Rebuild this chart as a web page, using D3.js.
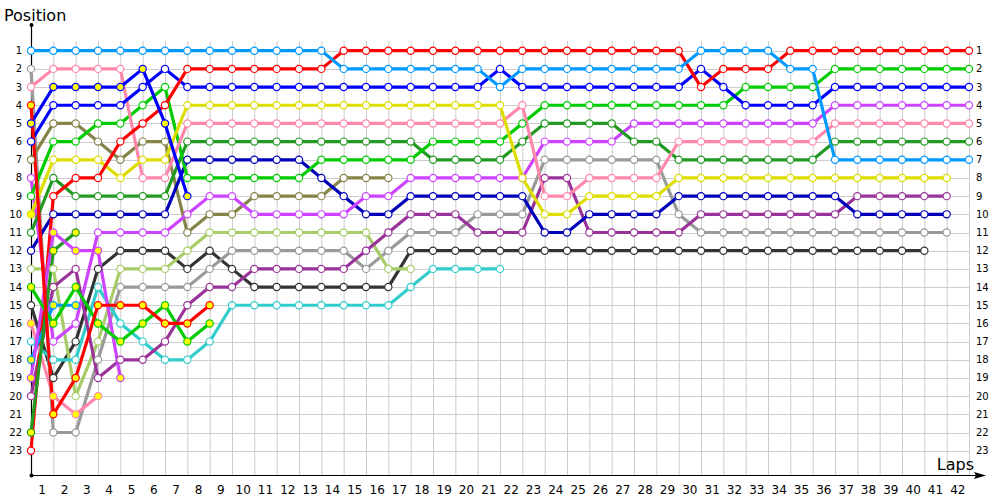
<!DOCTYPE html>
<html>
<head>
<meta charset="utf-8">
<script src="https://cdn.jsdelivr.net/npm/d3@7"></script>
<style>
  body { margin: 0; background: #fff; }
  svg { display: block; font-family: "DejaVu Sans", Verdana, sans-serif; }
</style>
</head>
<body>
<svg id="chart" width="1000" height="500"></svg>
<script>
// lap 0 = grid position, one value per lap until the car drops out
var skyW = [1,1,1,1,1,1,1,1,1,1,1,1,1,1,2,2,2,2,2,2,2,3,2,2,2,2,2,2,2,2,1,1,1,1,2,2,7,7,7,7,7,7,7];
var redW = [23,9,8,8,6,5,4,2,2,2,2,2,2,2,1,1,1,1,1,1,1,1,1,1,1,1,1,1,1,1,3,2,2,2,1,1,1,1,1,1,1,1,1];
var blueW = [6,4,4,4,4,3,2,3,3,3,3,3,3,3,3,3,3,3,3,3,3,2,3,3,3,3,3,3,3,3,2,3,4,4,4,4,3,3,3,3,3,3,3];
var yellow = [10,7,7,7,8,7,7,4,4,4,4,4,4,4,4,4,4,4,4,4,4,4,8,10,10,9,9,9,9,8,8,8,8,8,8,8,8,8,8,8,8,8];
var pink = [3,2,2,2,2,8,8,5,5,5,5,5,5,5,5,5,5,5,5,5,5,5,4,9,9,8,8,8,8,6,6,6,6,6,6,6,5,5,5,5,5,5,5];
var green = [9,6,6,5,5,4,3,8,8,8,8,8,8,7,7,7,7,7,6,6,6,6,5,4,4,4,4,4,4,4,4,4,3,3,3,3,2,2,2,2,2,2,2];
var darkGreen = [11,8,9,9,9,9,9,6,6,6,6,6,6,6,6,6,6,6,7,7,7,7,6,5,5,5,5,6,6,7,7,7,7,7,7,7,6,6,6,6,6,6,6];
var navy = [12,10,10,10,10,10,10,7,7,7,7,7,7,8,9,10,10,9,9,9,9,9,9,11,11,10,10,10,10,9,9,9,9,9,9,9,9,10,10,10,10,10];
var violetW = [8,17,16,11,11,11,11,10,9,9,10,10,10,10,10,9,9,8,8,8,8,8,8,6,6,6,6,5,5,5,5,5,5,5,5,5,4,4,4,4,4,4,4];
var olive = [7,5,5,6,7,6,6,11,10,10,9,9,9,9,8,8,8];
var lightGreen = [13,13,20,17,13,13,13,12,11,11,11,11,11,11,11,11,13,13];
var gray = [2,22,22,18,14,14,14,14,13,12,12,12,12,12,12,13,12,11,11,11,10,10,10,7,7,7,7,7,7,10,11,11,11,11,11,11,11,11,11,11,11,11];
var darkGray = [15,19,17,13,12,12,12,13,12,13,14,14,14,14,14,14,14,12,12,12,12,12,12,12,12,12,12,12,12,12,12,12,12,12,12,12,12,12,12,12,12];
var darkPurple = [20,14,13,19,18,18,17,15,14,14,13,13,13,13,13,12,11,10,10,10,11,11,11,8,8,11,11,11,11,11,10,10,10,10,10,10,10,9,9,9,9,9];
var cyan = [17,18,18,14,16,17,18,18,17,15,15,15,15,15,15,15,15,14,13,13,13,13];
var redY = [4,21,19,15,15,15,16,16,15];
var blueY = [5,3,3,3,3,2,5,9];
var greenY = [14,16,14,16,17,16,15,17,16];
var violetY = [19,11,12,12,19];
var darkGreenY = [22,12,11];
var skyY = [18,15,15];
var pinkY = [16,20,21,20];

var drivers = [
  { pos: darkGray, color: "#333333" },
  { pos: gray, color: "#9a9a9a" },
  { pos: lightGreen, color: "#a8cc68" },
  { pos: cyan, color: "#33cccc" },
  { pos: darkPurple, color: "#993399" },
  { pos: olive, color: "#85854a" },
  { pos: navy, color: "#0000bb" },
  { pos: violetW, color: "#cc44ff" },
  { pos: darkGreen, color: "#229922" },
  { pos: green, color: "#00cc00" },
  { pos: pink, color: "#ff88aa" },
  { pos: yellow, color: "#dddd00", fillFirst: true },
  { pos: blueW, color: "#0000ff" },
  { pos: redW, color: "#ff0000" },
  { pos: skyW, color: "#0099ff" },
  { pos: pinkY, color: "#ff88aa", filled: true },
  { pos: skyY, color: "#0099ff", filled: true },
  { pos: darkGreenY, color: "#229922", filled: true },
  { pos: violetY, color: "#cc44ff", filled: true },
  { pos: greenY, color: "#00cc00", filled: true },
  { pos: blueY, color: "#0000ff", filled: true },
  { pos: redY, color: "#ff0000", filled: true }
];

var laps = d3.range(0, 43);
var positions = d3.range(1, 24);

var svg = d3.select("#chart");
var x = d3.scaleLinear().domain([0, 42]).range([31, 969]);
var y = d3.scaleLinear().domain([1, 23]).range([50.7, 450.7]);
var axisY = 475;

// grid
var grid = svg.append("g").attr("stroke", "#cccccc").attr("stroke-width", 1);
grid.selectAll("line.v")
  .data(laps.slice(1))
  .enter().append("line")
  .attr("x1", function (d) { return x(d) + 0.5; })
  .attr("x2", function (d) { return x(d) + 0.5; })
  .attr("y1", 41)
  .attr("y2", axisY);
grid.selectAll("line.h")
  .data(positions)
  .enter().append("line")
  .attr("x1", x(0))
  .attr("x2", x(42) + 1)
  .attr("y1", function (d) { return Math.round(y(d)) + 0.5; })
  .attr("y2", function (d) { return Math.round(y(d)) + 0.5; });

// axes
svg.append("line")
  .attr("x1", x(0) + 0.5).attr("x2", x(0) + 0.5)
  .attr("y1", 25).attr("y2", axisY)
  .attr("stroke", "#000").attr("stroke-width", 1.2);
svg.append("line")
  .attr("x1", x(0)).attr("x2", 976)
  .attr("y1", axisY + 0.5).attr("y2", axisY + 0.5)
  .attr("stroke", "#000").attr("stroke-width", 1.2);
svg.append("path")
  .attr("d", "M986," + (axisY + 0.5) + "L974," + (axisY - 3) + "L976," + (axisY + 0.5) + "L974," + (axisY + 4) + "Z")
  .attr("fill", "#000");
svg.append("circle").attr("cx", x(0) + 0.5).attr("cy", 25).attr("r", 2).attr("fill", "#000");
svg.append("circle").attr("cx", x(0) + 0.5).attr("cy", axisY + 0.5).attr("r", 2).attr("fill", "#000");

svg.append("text").attr("x", 4).attr("y", 21)
  .attr("font-size", 16).text("Position");
svg.append("text").attr("x", 974).attr("y", 470)
  .attr("font-size", 16).attr("text-anchor", "end").text("Laps");

svg.append("g").selectAll("text")
  .data(positions)
  .enter().append("text")
  .attr("x", 22)
  .attr("y", function (d) { return y(d) + 3.5; })
  .attr("text-anchor", "end")
  .attr("font-size", 10)
  .text(function (d) { return d; });

svg.append("g").selectAll("text")
  .data(positions)
  .enter().append("text")
  .attr("x", 976)
  .attr("y", function (d) { return y(d) + 3.5; })
  .attr("font-size", 10)
  .text(function (d) { return d; });

svg.append("g").selectAll("text")
  .data(laps.slice(1))
  .enter().append("text")
  .attr("x", function (d) { return (x(d - 1) + x(d)) / 2; })
  .attr("y", 494)
  .attr("text-anchor", "middle")
  .attr("font-size", 12)
  .text(function (d) { return d; });

// driver lines
var line = d3.line()
  .x(function (d, i) { return x(i); })
  .y(function (d) { return y(d); });

var g = svg.append("g");
drivers.forEach(function (dr) {
  g.append("path")
    .attr("d", line(dr.pos))
    .attr("fill", "none")
    .attr("stroke", dr.color)
    .attr("stroke-width", 3.2)
    .attr("stroke-linejoin", "round");
});
drivers.forEach(function (dr) {
  g.append("g").selectAll("circle")
    .data(dr.pos)
    .enter().append("circle")
    .attr("cx", function (d, i) { return x(i); })
    .attr("cy", function (d) { return y(d); })
    .attr("r", 3.6)
    .attr("fill", function (d, i) {
      return (dr.filled || (dr.fillFirst && i === 0)) ? "#ffff00" : "#ffffff";
    })
    .attr("stroke", dr.color)
    .attr("stroke-width", 1.2);
});
</script>
</body>
</html>
